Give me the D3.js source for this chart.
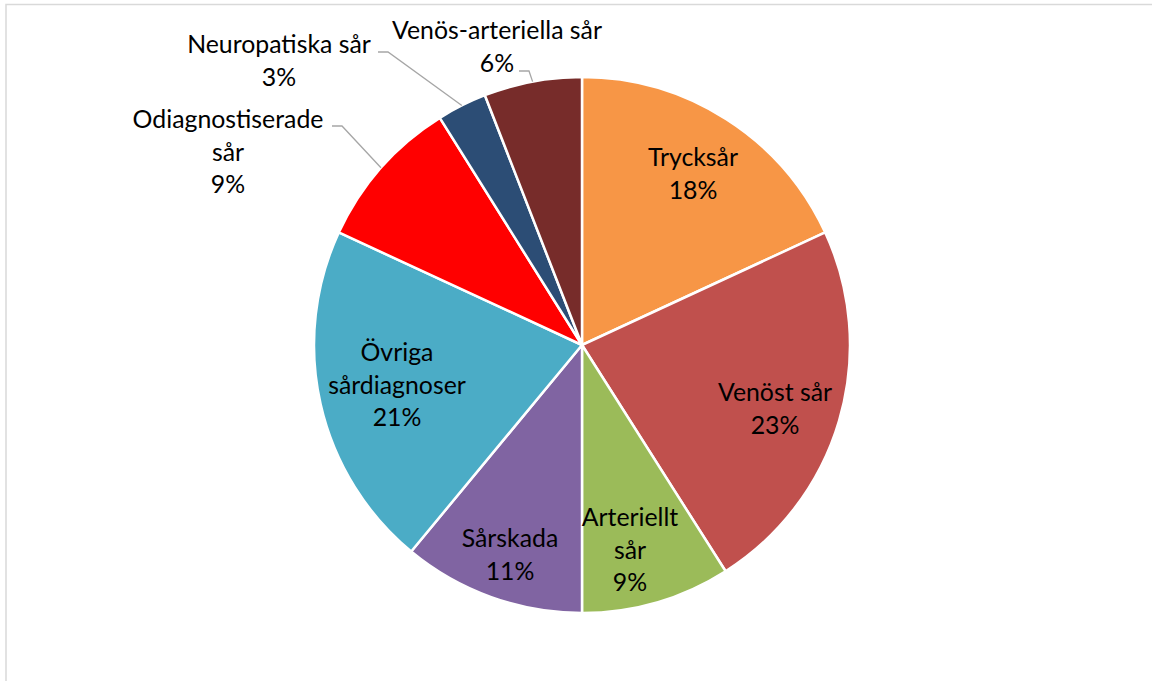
<!DOCTYPE html>
<html>
<head>
<meta charset="utf-8">
<script src="https://cdn.jsdelivr.net/npm/d3@7"></script>
<style>
  html, body { margin: 0; padding: 0; background: #fff; }
  svg { display: block; }
  text { font-family: Lato, "Noto Sans", sans-serif; fill: #000; }
</style>
</head>
<body>
<svg id="chart" width="1152" height="681"></svg>
<script>
// ---- data ----
const categories = ["Trycksår", "Venöst sår", "Arteriellt sår", "Sårskada",
  "Övriga sårdiagnoser", "Odiagnostiserade sår", "Neuropatiska sår", "Venös-arteriella sår"];
const values = [18.1, 22.9, 9.0, 11.0, 20.9, 9.2, 3.0, 5.9];
const labelLines = [["Trycksår"], ["Venöst sår"], ["Arteriellt", "sår"], ["Sårskada"],
  ["Övriga", "sårdiagnoser"], ["Odiagnostiserade", "sår"], ["Neuropatiska sår"], ["Venös-arteriella sår"]];
const colors = ["#F79646", "#C0504D", "#9BBB59", "#8064A2", "#4BACC6", "#FF0000", "#2C4D75", "#772C2A"];

// ---- layout (label anchors: centre x, first baseline y; leader stub start) ----
const labelPos = [
  {x: 693, y: 166}, {x: 775, y: 401}, {x: 630, y: 526}, {x: 510, y: 547},
  {x: 397, y: 361}, {x: 228, y: 128, leader: [332, 126]}, {x: 279, y: 53, leader: [378, 52]},
  {x: 497, y: 39, leader: [519, 71]}
];
const lineH = 32.5;
const cx = 582, cy = 345, R = 268;

const svg = d3.select("#chart");

// outer frame
svg.append("rect").attr("x", 6).attr("y", 4.5).attr("width", 1200).attr("height", 720)
  .attr("fill", "none").attr("stroke", "#d9d9d9").attr("stroke-width", 1.5);

// font-size fitted so that the longest label matches the reference width
const probe = svg.append("text").style("font-size", "26px").text("Venös-arteriella sår");
const w = probe.node().getComputedTextLength();
probe.remove();
const fontSize = Math.min(26, 26 * 210 / w);

const total = d3.sum(values);
const pie = d3.pie().sort(null).value(d => d)(values);
const arc = d3.arc().innerRadius(0).outerRadius(R);

const g = svg.append("g").attr("transform", `translate(${cx},${cy})`);
g.selectAll("path.slice").data(pie).join("path")
  .attr("class", "slice")
  .attr("d", arc)
  .attr("fill", (d, i) => colors[i])
  .attr("stroke", "#fff").attr("stroke-width", 2.5).attr("stroke-linejoin", "round");

// leader lines
pie.forEach((d, i) => {
  const lp = labelPos[i];
  if (!lp.leader) return;
  const a = (d.startAngle + d.endAngle) / 2;
  const ex = cx + R * Math.sin(a), ey = cy - R * Math.cos(a);
  const [sx, sy] = lp.leader;
  svg.append("polyline")
    .attr("points", `${sx},${sy} ${sx + 10},${sy} ${ex},${ey}`)
    .attr("fill", "none").attr("stroke", "#a6a6a6").attr("stroke-width", 1.3);
});

// labels
pie.forEach((d, i) => {
  const lp = labelPos[i];
  const lines = labelLines[i].concat([Math.round(values[i] / total * 100) + "%"]);
  const t = svg.append("text").attr("text-anchor", "middle").style("font-size", fontSize + "px");
  lines.forEach((ln, k) => {
    t.append("tspan").attr("x", lp.x).attr("y", lp.y + k * lineH).text(ln);
  });
});
</script>
</body>
</html>
